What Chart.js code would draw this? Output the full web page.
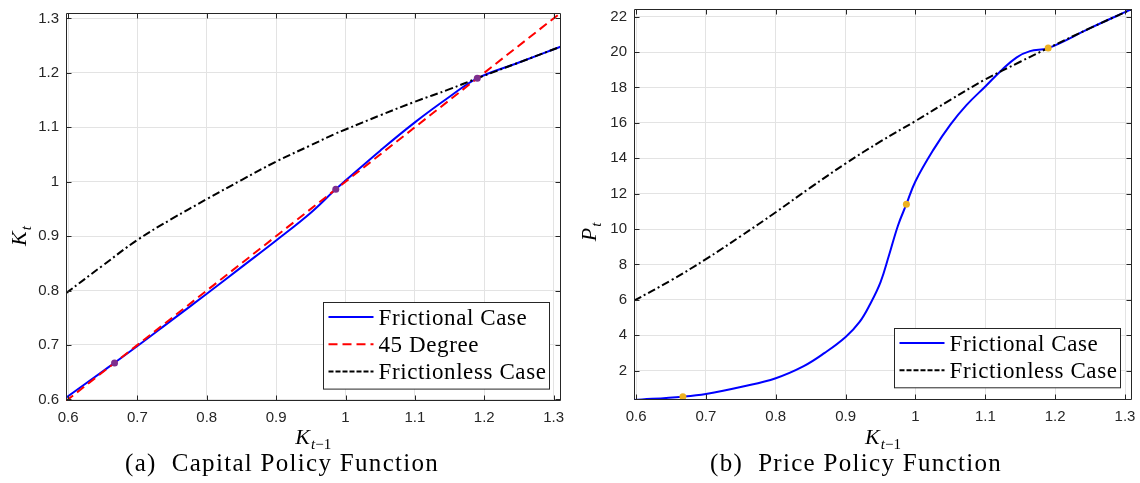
<!DOCTYPE html>
<html>
<head>
<meta charset="utf-8">
<script src="https://cdn.jsdelivr.net/npm/chart.js@4.4.0/dist/chart.umd.min.js"></script>
<style>
  html, body { margin: 0; padding: 0; background: #fff; }
  body { width: 1140px; height: 483px; position: relative; overflow: hidden; }
  .panel { position: absolute; top: 0; width: 570px; height: 483px; }
  .caption { position: absolute; top: 449px; font-family: "Liberation Serif", serif; font-size: 25px; color: #000; white-space: pre; letter-spacing: 1.3px; }
</style>
</head>
<body>
<div class="panel" style="left:0"><canvas id="capitalChart" width="570" height="483"></canvas></div>
<div class="panel" style="left:570px"><canvas id="priceChart" width="570" height="483"></canvas></div>
<div class="caption" style="left:125px">(a)  Capital Policy Function</div>
<div class="caption" style="left:710px">(b)  Price Policy Function</div>
<script>
// axis range and ticks (K_{t-1} on both panels)
const kMin = 0.597, kMax = 1.31;
const kTicks = [0.6, 0.7, 0.8, 0.9, 1.0, 1.1, 1.2, 1.3];
const pMin = 0.34, pMax = 22.43;
const pTicks = [2, 4, 6, 8, 10, 12, 14, 16, 18, 20, 22];

// (a) capital policy
const capK = [0.597, 0.65, 0.7, 0.75, 0.8, 0.85, 0.9, 0.95, 0.985, 1.0, 1.05, 1.1, 1.15, 1.19, 1.25, 1.31];
const capFrictional = [0.603, 0.6515, 0.698, 0.746, 0.794, 0.843, 0.892, 0.943, 0.985, 1.002, 1.057, 1.109, 1.156, 1.19, 1.219, 1.248];
const capFrictionless = [0.795, 0.846, 0.893, 0.932, 0.968, 1.003, 1.037, 1.067, 1.088, 1.096, 1.122, 1.147, 1.170, 1.19, 1.219, 1.248];
const deg45K = [0.597, 1.31];
const deg45 = [0.597, 1.31];
const capSSK = [0.667, 0.986, 1.19];
const capSS = [0.667, 0.986, 1.19];

// (b) price policy
const priceKFrictionless = [0.597, 0.65, 0.7, 0.75, 0.8, 0.85, 0.9, 0.95, 1.0, 1.05, 1.1, 1.15, 1.19, 1.25, 1.31];
const priceFrictionless = [5.95, 7.1, 8.3, 9.6, 10.95, 12.35, 13.7, 14.95, 16.1, 17.3, 18.45, 19.45, 20.22, 21.35, 22.43];
const priceKFrictional = [0.597, 0.667, 0.7, 0.753, 0.8, 0.84, 0.87, 0.9, 0.92, 0.935, 0.95, 0.962, 0.975, 0.987, 1.0, 1.026, 1.05, 1.073, 1.1, 1.124, 1.145, 1.164, 1.19, 1.25, 1.31];
const priceFrictional = [0.34, 0.53, 0.68, 1.1, 1.57, 2.25, 3.0, 3.9, 4.75, 5.75, 7.0, 8.5, 10.2, 11.4, 12.7, 14.5, 15.9, 17.0, 18.05, 19.0, 19.7, 20.05, 20.22, 21.35, 22.43];
const priceSSK = [0.667, 0.987, 1.19];
const priceSS = [0.53, 11.4, 20.22];

const BLUE = '#0000ff', RED = '#ff0000', BLACK = '#000000';
const DASH = [9, 5], DASHDOT = [8, 3, 2, 3];
const AXIS_COLOR = '#262626', GRID_COLOR = '#e3e3e3';
const tickFont = { family: 'Liberation Sans', size: 15 };

function zip(xs, ys) {
    return xs.map((x, i) => ({ x: x, y: ys[i] }));
}

function fmt(v) {
    return String(Math.round(v * 10) / 10);
}

// draws e.g. K_{t-1} with a lowered subscript, centred at (cx, baseline)
function drawMath(ctx, cx, baseline, base, sub) {
    const bigFont = 'italic 22px "Liberation Serif"';
    const smallIt = 'italic 15px "Liberation Serif"';
    const smallUp = '15px "Liberation Serif"';
    ctx.font = bigFont;
    const wBase = ctx.measureText(base).width;
    let wSub = 0;
    sub.forEach(p => { ctx.font = p.italic ? smallIt : smallUp; wSub += ctx.measureText(p.t).width; });
    let x = cx - (wBase + 1 + wSub) / 2;
    ctx.textAlign = 'left';
    ctx.textBaseline = 'alphabetic';
    ctx.fillStyle = '#000';
    ctx.font = bigFont;
    ctx.fillText(base, x, baseline);
    x += wBase + 1;
    sub.forEach(p => {
        ctx.font = p.italic ? smallIt : smallUp;
        ctx.fillText(p.t, x, baseline + 5);
        x += ctx.measureText(p.t).width;
    });
}

const framePlugin = {
    id: 'frame',
    afterDraw(chart, args, opts) {
        const { ctx, chartArea: a, scales } = chart;
        const L = Math.round(a.left) + 0.5, R = Math.round(a.right) - 0.5;
        const T = Math.round(a.top) + 0.5, B = Math.round(a.bottom) - 0.5;
        ctx.save();

        // legend box, drawn over the curves
        const items = opts.legend;
        const boxW = 226, rowH = 27.3;
        const boxH = 14.5 + (items.length - 1) * rowH + 17.5;
        const bx = Math.round(a.right - 12 - boxW) + 0.5;
        const by = Math.round(a.bottom - 12.5 - boxH) + 0.5;
        ctx.fillStyle = '#fff';
        ctx.fillRect(bx, by, boxW, boxH);
        ctx.strokeStyle = AXIS_COLOR;
        ctx.lineWidth = 1;
        ctx.setLineDash([]);
        ctx.strokeRect(bx, by, boxW, boxH);
        items.forEach((it, i) => {
            const cy = by + 14.5 + i * rowH;
            ctx.beginPath();
            ctx.strokeStyle = it.color;
            ctx.lineWidth = 2;
            ctx.setLineDash(it.dash);
            ctx.moveTo(bx + 5, cy);
            ctx.lineTo(bx + 50, cy);
            ctx.stroke();
            ctx.setLineDash([]);
            ctx.fillStyle = '#000';
            ctx.font = '23px "Liberation Serif"';
            ctx.letterSpacing = '0.6px';
            ctx.textAlign = 'left';
            ctx.textBaseline = 'alphabetic';
            ctx.fillText(it.text, bx + 55, cy + 7.5);
            ctx.letterSpacing = '0px';
        });

        // box and inward ticks on all four sides
        ctx.strokeStyle = AXIS_COLOR;
        ctx.lineWidth = 1;
        ctx.beginPath();
        ctx.rect(L, T, R - L, B - T);
        scales.x.ticks.forEach(t => {
            const px = Math.round(scales.x.getPixelForValue(t.value)) + 0.5;
            ctx.moveTo(px, B); ctx.lineTo(px, B - 5);
            ctx.moveTo(px, T); ctx.lineTo(px, T + 5);
        });
        scales.y.ticks.forEach(t => {
            const py = Math.round(scales.y.getPixelForValue(t.value)) + 0.5;
            ctx.moveTo(L, py); ctx.lineTo(L + 5, py);
            ctx.moveTo(R, py); ctx.lineTo(R - 5, py);
        });
        ctx.stroke();

        // axis titles
        const xt = opts.xTitle, yt = opts.yTitle;
        drawMath(ctx, (a.left + a.right) / 2, xt.y, xt.base, xt.sub);
        ctx.save();
        ctx.translate(yt.x, yt.y);
        ctx.rotate(-Math.PI / 2);
        drawMath(ctx, 0, 0, yt.base, yt.sub);
        ctx.restore();

        ctx.restore();
    }
};

function makeScales(yMin, yMax, yTicks, yWidth) {
    return {
        x: {
            type: 'linear',
            min: kMin,
            max: kMax,
            afterBuildTicks: s => { s.ticks = kTicks.map(v => ({ value: v })); },
            afterFit: s => { s.height = 30; s.paddingLeft = 0; s.paddingRight = 0; },
            grid: { color: GRID_COLOR, drawTicks: false },
            border: { display: false },
            ticks: { font: tickFont, color: AXIS_COLOR, padding: 8, maxRotation: 0, callback: v => fmt(v) }
        },
        y: {
            type: 'linear',
            min: yMin,
            max: yMax,
            afterBuildTicks: s => { s.ticks = yTicks.map(v => ({ value: v })); },
            afterFit: s => { s.width = yWidth; s.paddingTop = 0; s.paddingBottom = 0; },
            grid: { color: GRID_COLOR, drawTicks: false },
            border: { display: false },
            ticks: { font: tickFont, color: AXIS_COLOR, padding: 7, callback: v => fmt(v) }
        }
    };
}

const kSub = [{ t: 't', italic: true }, { t: '\u22121', italic: false }];

new Chart(document.getElementById('capitalChart'), {
    type: 'line',
    data: {
        datasets: [
            { label: 'Steady states', data: zip(capSSK, capSS), showLine: false, pointRadius: 3.5, pointBackgroundColor: '#7e2f8e', pointBorderWidth: 0 },
            { label: 'Frictionless Case', data: zip(capK, capFrictionless), borderColor: BLACK, borderWidth: 2, borderDash: DASHDOT, pointRadius: 0, tension: 0.4 },
            { label: '45 Degree', data: zip(deg45K, deg45), borderColor: RED, borderWidth: 2, borderDash: DASH, pointRadius: 0 },
            { label: 'Frictional Case', data: zip(capK, capFrictional), borderColor: BLUE, borderWidth: 2, pointRadius: 0, tension: 0.4 }
        ]
    },
    options: {
        responsive: false,
        animation: false,
        devicePixelRatio: 1,
        layout: { padding: { top: 13, right: 9.5, bottom: 52, left: 0 } },
        scales: makeScales(kMin, kMax, kTicks, 66),
        plugins: {
            legend: { display: false },
            tooltip: { enabled: false },
            frame: {
                legend: [
                    { text: 'Frictional Case', color: BLUE, dash: [] },
                    { text: '45 Degree', color: RED, dash: DASH },
                    { text: 'Frictionless Case', color: BLACK, dash: [5, 2] }
                ],
                xTitle: { y: 444, base: 'K', sub: kSub },
                yTitle: { x: 26, y: 236, base: 'K', sub: [{ t: 't', italic: true }] }
            }
        }
    },
    plugins: [framePlugin]
});

new Chart(document.getElementById('priceChart'), {
    type: 'line',
    data: {
        datasets: [
            { label: 'Steady states', data: zip(priceSSK, priceSS), showLine: false, pointRadius: 3.5, pointBackgroundColor: '#edb120', pointBorderWidth: 0 },
            { label: 'Frictionless Case', data: zip(priceKFrictionless, priceFrictionless), borderColor: BLACK, borderWidth: 2, borderDash: DASHDOT, pointRadius: 0, tension: 0.4 },
            { label: 'Frictional Case', data: zip(priceKFrictional, priceFrictional), borderColor: BLUE, borderWidth: 2, pointRadius: 0, tension: 0.4 }
        ]
    },
    options: {
        responsive: false,
        animation: false,
        devicePixelRatio: 1,
        layout: { padding: { top: 9, right: 8, bottom: 53, left: 0 } },
        scales: makeScales(pMin, pMax, pTicks, 64),
        plugins: {
            legend: { display: false },
            tooltip: { enabled: false },
            frame: {
                legend: [
                    { text: 'Frictional Case', color: BLUE, dash: [] },
                    { text: 'Frictionless Case', color: BLACK, dash: [5, 2] }
                ],
                xTitle: { y: 444, base: 'K', sub: kSub },
                yTitle: { x: 26, y: 232, base: 'P', sub: [{ t: 't', italic: true }] }
            }
        }
    },
    plugins: [framePlugin]
});
</script>
</body>
</html>
